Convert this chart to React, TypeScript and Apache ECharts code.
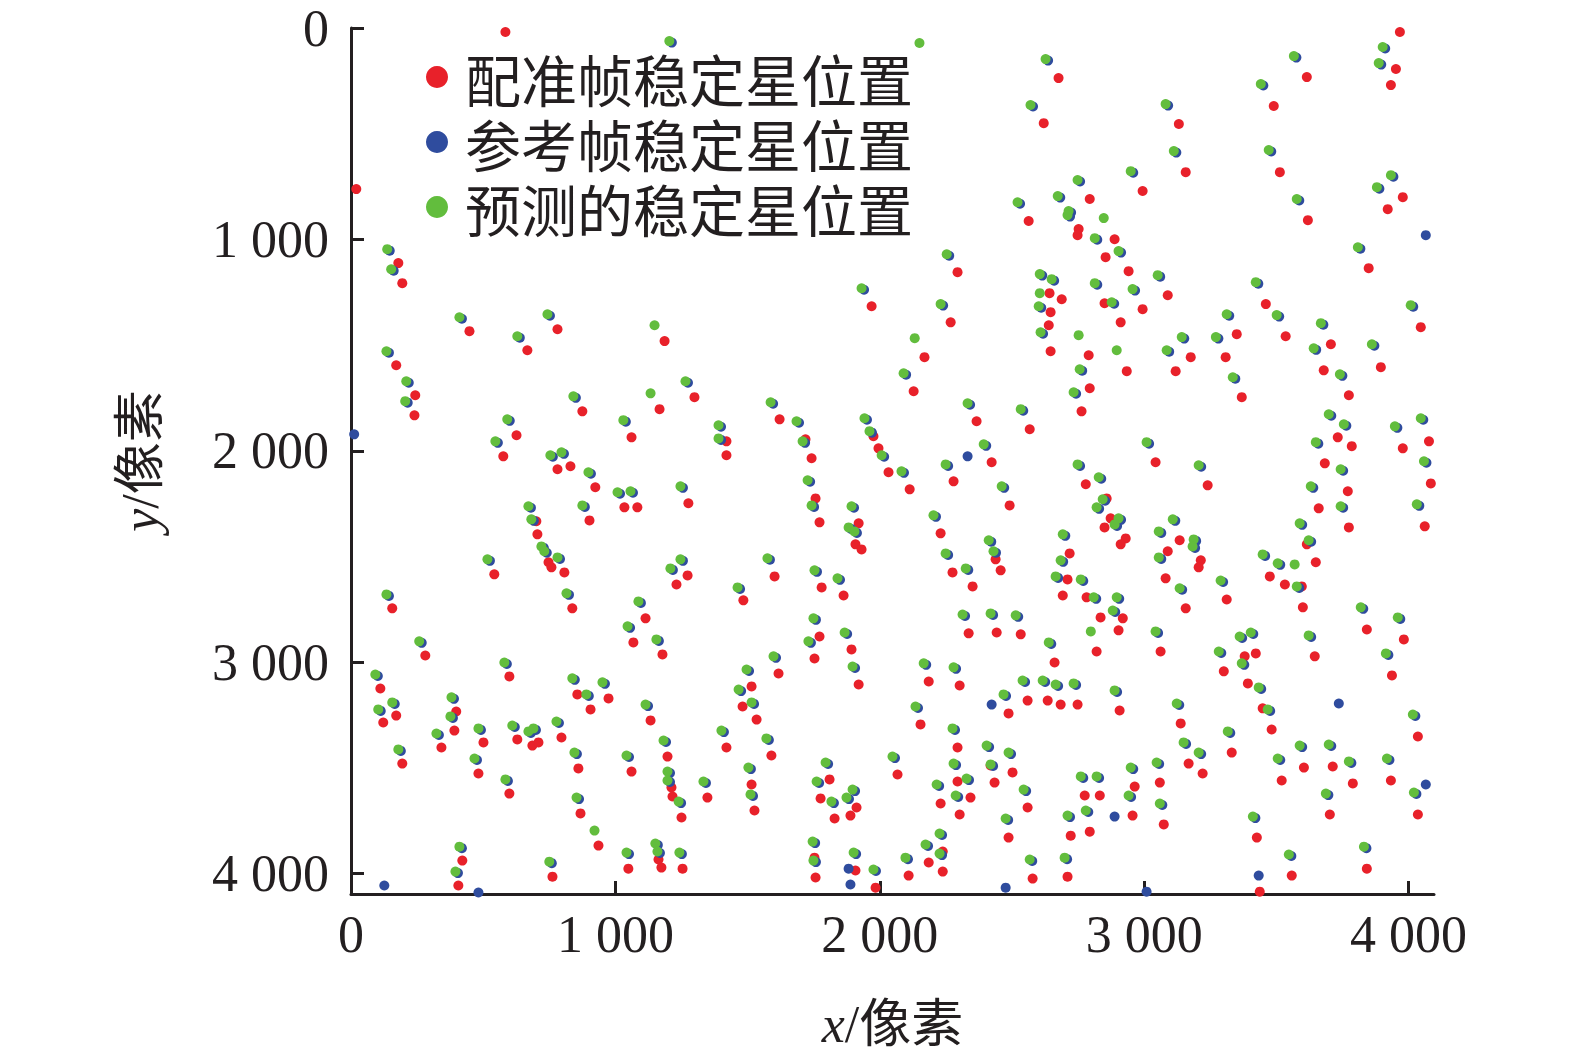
import React, { useEffect, useRef } from 'react';
import * as echarts from 'echarts';

const legendNames = ['配准帧稳定星位置', '参考帧稳定星位置', '预测的稳定星位置'];
const xTickValues = [0, 1000, 2000, 3000, 4000];
const yTickValues = [0, 1000, 2000, 3000, 4000];
const axisMax = 4096;

// red: registered frame stars
const registeredStars = [
[584,19],[20,762],[179,1112],[194,1207],[1969,1316],[2676,237],[2620,450],[2994,771],[2794,809],[2563,913],
[2752,951],[2748,980],[2888,999],[2854,1084],[2941,1150],[2294,1155],[2642,1254],[2688,1283],[2850,1302],[2994,1330],
[3967,19],[3952,194],[3615,232],[3933,270],[3490,369],[3131,454],[3157,682],[3513,682],[3978,800],[3921,857],
[3619,909],[3849,1136],[3089,1264],[3460,1306],[448,1434],[781,1425],[667,1524],[171,1595],[243,1737],[240,1832],
[875,1813],[626,1926],[576,2026],[781,2087],[830,2073],[924,2172],[701,2333],[705,2395],[902,2329],[747,2527],
[758,2551],[807,2575],[542,2584],[1186,1481],[1299,1746],[1167,1803],[1061,1936],[1420,1955],[1420,2021],[1621,1851],
[1719,1945],[1742,2035],[1976,1931],[1995,1988],[2033,2101],[1034,2267],[1083,2267],[1276,2248],[1757,2225],[1772,2338],
[1920,2343],[1908,2442],[1931,2466],[1273,2589],[1231,2632],[1602,2594],[1780,2646],[1863,2684],[1484,2707],[2268,1392],
[2169,1557],[2128,1718],[2646,1344],[2639,1406],[2646,1529],[2790,1548],[2934,1623],[2911,1392],[2794,1704],[2763,1813],
[2366,1860],[2567,1898],[2423,2054],[2113,2182],[2279,2144],[2491,2258],[3043,2054],[2779,2158],[2858,2225],[2873,2319],
[2850,2362],[2930,2414],[2911,2442],[2230,2390],[2438,2513],[2457,2565],[2275,2575],[2351,2641],[2718,2485],[2710,2608],
[2692,2684],[2782,2693],[3350,1448],[3176,1557],[3308,1557],[3119,1623],[3369,1746],[3535,1458],[3706,1496],[3679,1619],
[3774,1737],[3895,1604],[4046,1415],[3732,1936],[3785,1978],[3683,2059],[3770,2191],[3978,1988],[4077,1955],[4084,2154],
[3660,2272],[3774,2362],[4061,2357],[3240,2163],[3134,2423],[3089,2475],[3214,2518],[3206,2551],[3081,2603],[3312,2703],
[3615,2442],[3649,2527],[3475,2594],[3532,2632],[3596,2641],[156,2745],[837,2745],[281,2968],[111,3124],[171,3252],
[122,3285],[599,3067],[398,3233],[391,3323],[342,3403],[501,3379],[194,3479],[482,3526],[629,3365],[686,3394],
[709,3379],[796,3356],[856,3152],[906,3223],[974,3171],[860,3502],[599,3621],[868,3715],[936,3867],[421,3938],
[406,4056],[762,4014],[1114,2792],[1068,2906],[1178,2963],[1772,2878],[1753,2982],[1893,2939],[1920,3105],[1617,3053],
[1515,3114],[1481,3209],[1534,3271],[1133,3275],[1420,3403],[1197,3446],[1590,3441],[1061,3517],[1212,3592],[1216,3635],
[1250,3734],[1348,3640],[1515,3578],[1526,3701],[1810,3554],[1776,3644],[1829,3739],[1912,3687],[1889,3725],[1163,3933],
[1174,3971],[1049,3976],[1254,3976],[1753,3924],[1757,4018],[1908,3985],[1984,4066],[2835,2788],[2919,2792],[2903,2849],
[2820,2949],[3062,2949],[2336,2863],[2442,2859],[2533,2868],[2661,3001],[2185,3091],[2302,3110],[2559,3181],[2635,3181],
[2684,3200],[2748,3200],[2907,3228],[2487,3242],[2154,3294],[2294,3403],[2419,3488],[2502,3521],[2067,3531],[2294,3564],
[2343,3640],[2230,3668],[2302,3720],[2434,3569],[2559,3687],[2487,3829],[2775,3630],[2832,3630],[2964,3588],[2956,3725],
[3059,3569],[2794,3801],[2722,3820],[2238,3895],[2185,3947],[2238,3990],[2109,4009],[2578,4023],[2710,4014],[3157,2745],
[3600,2740],[3842,2845],[3982,2892],[3380,2972],[3422,2958],[3301,3043],[3392,3100],[3448,3218],[3482,3318],[3645,2972],
[3937,3062],[3138,3289],[3168,3479],[3221,3526],[3331,3427],[3074,3767],[3520,3559],[3604,3498],[3713,3493],[3789,3573],
[3933,3559],[3702,3720],[4035,3351],[4035,3720],[3426,3829],[3558,4009],[3842,3976],[3437,4085]
];

// green over blue: predicted positions that coincide with reference positions
const matchedStars = [
[137,1046],[152,1141],[1204,62],[1931,1231],[2627,147],[2570,364],[2949,677],[2748,719],[2673,795],[2521,824],
[2714,866],[2710,885],[2813,994],[2903,1055],[2253,1070],[2605,1164],[2650,1188],[2813,1207],[3051,1169],[2956,1235],
[2230,1306],[2601,1316],[2877,1297],[3902,90],[3566,133],[3887,166],[3441,265],[3081,360],[3112,582],[3471,577],
[3933,696],[3880,753],[3577,809],[3808,1037],[3422,1202],[4008,1311],[410,1368],[743,1354],[629,1458],[134,1529],
[209,1671],[205,1765],[841,1742],[591,1851],[546,1955],[754,2021],[796,2007],[898,2101],[1008,2196],[671,2262],
[682,2324],[875,2258],[720,2452],[731,2475],[781,2504],[516,2513],[134,2679],[815,2674],[1265,1671],[1030,1855],
[1390,1879],[1390,1941],[1587,1770],[1685,1860],[1708,1955],[1942,1846],[1961,1907],[2007,2021],[1057,2191],[1246,2168],
[1727,2139],[1742,2258],[1893,2262],[1882,2362],[1904,2381],[1246,2513],[1208,2556],[1575,2508],[1753,2565],[1840,2603],
[1462,2646],[1087,2712],[2090,1633],[2608,1439],[2756,1614],[2733,1723],[2332,1775],[2533,1803],[2393,1969],[2082,2097],
[2249,2064],[2461,2168],[3009,1959],[2748,2064],[2828,2125],[2843,2229],[2820,2267],[2903,2319],[2888,2348],[2203,2305],
[2412,2423],[2430,2475],[2249,2485],[2325,2556],[2692,2395],[2684,2518],[2665,2594],[2760,2608],[2809,2693],[2896,2693],
[3055,2381],[3055,2504],[3312,1354],[3142,1462],[3271,1462],[3085,1524],[3335,1652],[3501,1358],[3668,1396],[3641,1515],
[3740,1638],[3861,1496],[3698,1827],[3755,1874],[3649,1959],[3743,2087],[3948,1884],[4046,1846],[4058,2049],[3630,2168],
[3743,2262],[4031,2253],[3206,2068],[3108,2324],[3187,2419],[3183,2452],[3134,2650],[3289,2613],[3588,2343],[3622,2423],
[3448,2490],[3505,2532],[3577,2641],[258,2901],[92,3058],[156,3190],[103,3223],[580,3001],[380,3166],[376,3256],
[323,3337],[482,3313],[179,3412],[467,3455],[610,3299],[671,3327],[690,3313],[777,3280],[837,3076],[890,3152],
[951,3095],[845,3427],[584,3554],[853,3640],[410,3872],[395,3990],[750,3943],[1046,2830],[1155,2892],[1749,2792],
[1730,2901],[1867,2859],[1897,3020],[1598,2972],[1496,3034],[1466,3129],[1515,3190],[1114,3200],[1401,3323],[1182,3370],
[1571,3360],[1042,3441],[1197,3517],[1197,3559],[1239,3659],[1333,3564],[1503,3498],[1511,3625],[1795,3474],[1761,3564],
[1817,3659],[1897,3602],[1874,3640],[2048,3446],[1151,3857],[1159,3895],[1042,3900],[1242,3900],[1746,3848],[1749,3938],
[1901,3900],[1976,3980],[2881,2755],[3043,2854],[2313,2774],[2419,2769],[2514,2778],[2639,2906],[2166,3005],[2279,3024],
[2540,3086],[2616,3086],[2665,3105],[2733,3100],[2888,3133],[2468,3152],[2135,3209],[2275,3313],[2404,3394],[2419,3483],
[2487,3427],[2279,3479],[2328,3550],[2215,3578],[2287,3630],[2544,3602],[2476,3739],[2760,3540],[2820,3540],[2949,3498],
[2941,3630],[3047,3474],[3059,3668],[2779,3701],[2710,3725],[2226,3810],[2173,3862],[2226,3905],[2097,3924],[2567,3933],
[2699,3924],[3819,2740],[3959,2788],[3361,2878],[3403,2859],[3282,2949],[3369,3005],[3433,3119],[3467,3223],[3622,2873],
[3914,2958],[3123,3195],[3149,3379],[3206,3427],[3316,3327],[3505,3455],[3588,3394],[3698,3389],[3774,3469],[3918,3455],
[3687,3621],[4016,3247],[4020,3616],[3411,3730],[3547,3909],[3831,3872]
];

// green without a visible blue
const predictedOnly = [
[2150,71],[2847,899],[2605,1254],[1148,1406],[1133,1728],[2132,1467],[2752,1453],[2896,1524],[3569,2537],[921,3796],[2798,2854]
];

// blue without a visible green
const referenceOnly = [
[4065,980],[12,1922],[2332,2026],[126,4056],[482,4089],[1882,3976],[1889,4051],[2423,3200],[2888,3730],
[2476,4066],[3009,4085],[3736,3195],[4065,3578],[3433,4009]
];

const RED = '#E8212A';
const BLUE = '#2F4C9E';
const GREEN = '#62BD3D';
const INK = '#231F20';
const SERIF = '"Liberation Serif", "Times New Roman", serif';
const CJK = '"Noto Sans CJK SC", sans-serif';

const fmt = (v: number) => {
  if (v === 0) return '0';
  const th = Math.floor(v / 1000);
  const rest = String(v % 1000).padStart(3, '0');
  return th + ' ' + rest;
};

export default function App() {
  const ref = useRef<HTMLDivElement>(null);
  useEffect(() => {
    if (!ref.current) return;
    const chart = echarts.init(ref.current, null, { renderer: 'svg' });
    const axisCommon = (ticks: number[]) => ({
      type: 'value',
      min: 0,
      max: axisMax,
      interval: 1000,
      splitLine: { show: false },
      axisLine: { show: true, onZero: false, lineStyle: { color: INK, width: 3 } },
      axisTick: { show: true, inside: true, length: 13, lineStyle: { color: INK, width: 3 }, customValues: ticks },
    });
    const nameStyle = {
      fontSize: 52,
      fontFamily: SERIF + ', ' + CJK,
      color: INK,
      rich: { i: { fontStyle: 'italic', fontFamily: SERIF, fontSize: 52, color: INK } },
    };
    chart.setOption({
      animation: false,
      backgroundColor: '#ffffff',
      grid: { left: 351, top: 28, right: 141, bottom: 168 },
      legend: {
        data: legendNames,
        orient: 'vertical',
        left: 421,
        top: 44,
        itemWidth: 22,
        itemHeight: 22,
        itemGap: 9,
        icon: 'circle',
        textStyle: { fontFamily: CJK, fontSize: 56, lineHeight: 56, color: INK, padding: [0, 0, 0, 12] },
      },
      xAxis: {
        ...axisCommon(xTickValues),
        position: 'bottom',
        name: '{i|x}/像素',
        nameLocation: 'middle',
        nameGap: 104,
        nameTextStyle: nameStyle,
        axisLabel: { customValues: xTickValues, formatter: fmt, fontSize: 52, fontFamily: SERIF, color: INK, margin: 14 },
      },
      yAxis: {
        ...axisCommon(yTickValues),
        inverse: true,
        position: 'left',
        name: '{i|y}/像素',
        nameLocation: 'middle',
        nameGap: 185,
        nameTextStyle: nameStyle,
        axisLabel: { customValues: yTickValues, formatter: fmt, fontSize: 52, fontFamily: SERIF, color: INK, margin: 22 },
      },
      series: [
        { name: legendNames[0], type: 'scatter', data: registeredStars, symbolSize: 10, itemStyle: { color: RED, opacity: 1 } },
        { name: legendNames[1], type: 'scatter', data: matchedStars, symbolSize: 10, symbolOffset: [2.5, 1.5], itemStyle: { color: BLUE, opacity: 1 } },
        { name: legendNames[1], type: 'scatter', data: referenceOnly, symbolSize: 10, itemStyle: { color: BLUE, opacity: 1 } },
        { name: legendNames[2], type: 'scatter', data: [...matchedStars, ...predictedOnly], symbolSize: 10, itemStyle: { color: GREEN, opacity: 1 } },
      ],
    });
    return () => chart.dispose();
  }, []);
  return (
    <div
      ref={ref}
      style={{ position: 'fixed', left: 0, top: 0, width: 1575, height: 1062, background: '#fff' }}
    />
  );
}
